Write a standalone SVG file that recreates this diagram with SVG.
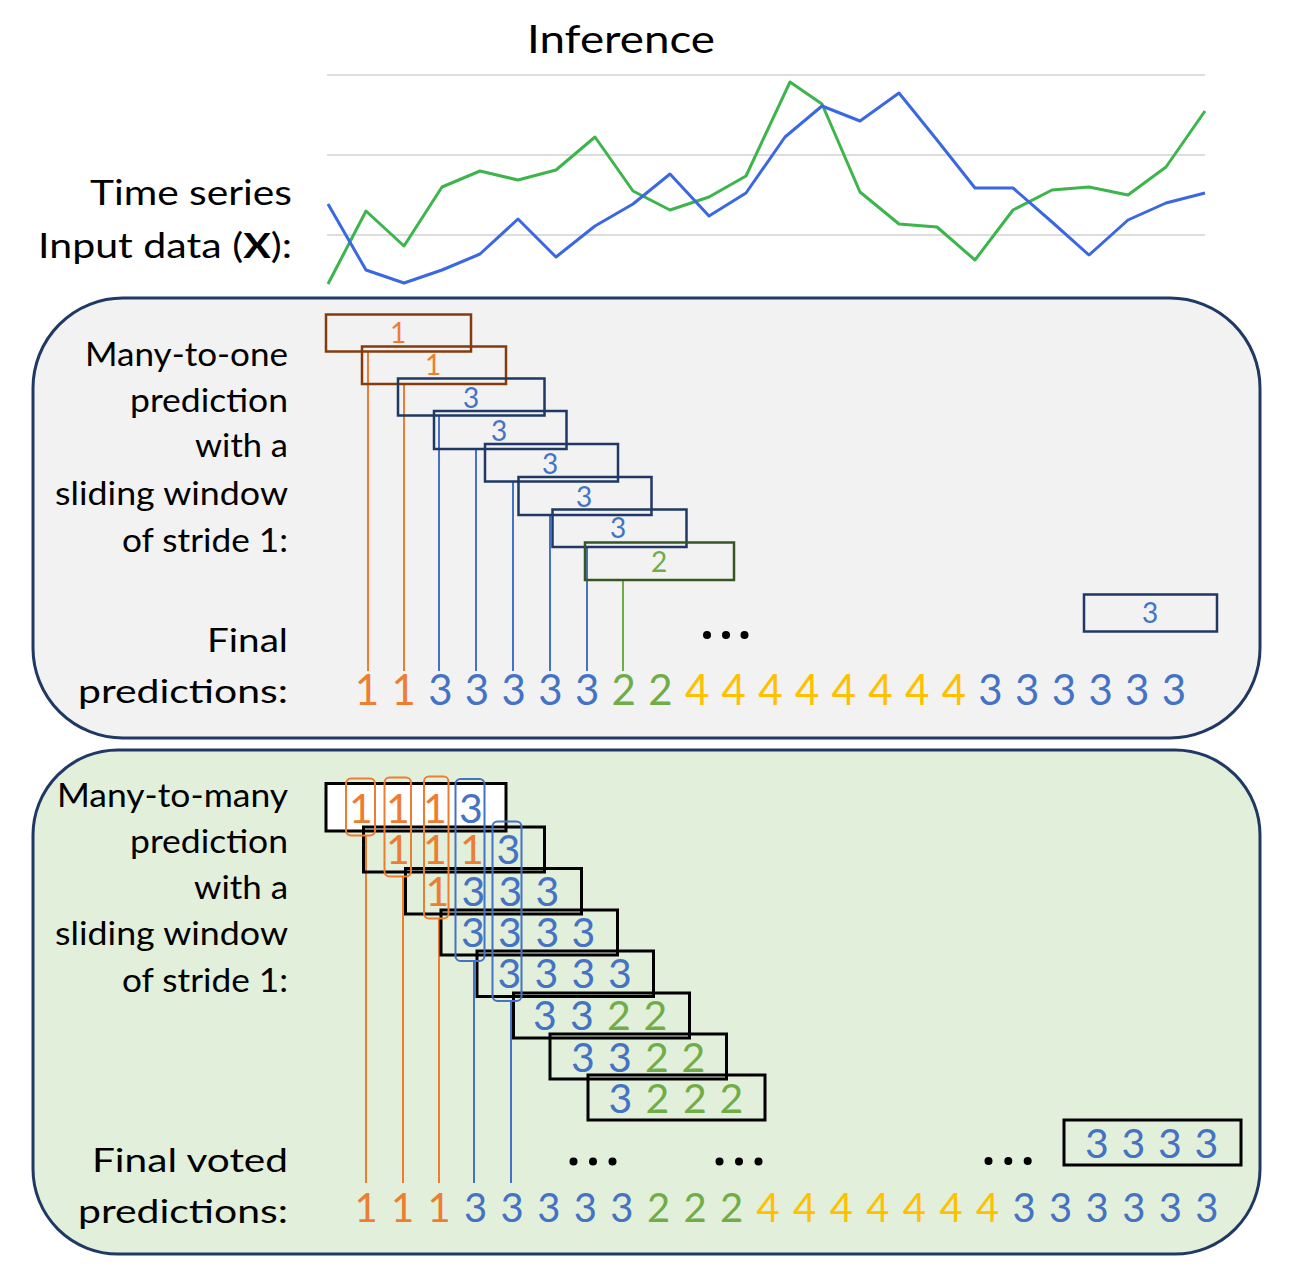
<svg xmlns="http://www.w3.org/2000/svg" width="1298" height="1280" viewBox="0 0 1298 1280">
<style>
  text { font-family: Lato, "Liberation Sans", Arial, sans-serif; }
  .lbl { font-size: 32px; fill: #000; }
  .big { font-size: 35px; fill: #000; }
  .grid { stroke: #dddddd; stroke-width: 2; fill: none; }
  .ser { fill: none; stroke-width: 3; stroke-linejoin: round; }
  .panel { stroke: #1f3864; stroke-width: 3; }
  .w1 { fill: none; stroke-width: 2.5; }
  .w2 { fill: none; stroke: #000; stroke-width: 3; }
  .sel { fill: none; stroke-width: 2; }
  .d1 { font-size: 28px; text-anchor: middle; }
  .d2 { font-size: 41px; text-anchor: middle; }
  .dr1 { font-size: 42px; text-anchor: middle; }
  .dr2 { font-size: 40px; text-anchor: middle; }
  .o { fill: #ed7d31; } .b { fill: #4472c4; } .g { fill: #70ad47; } .y { fill: #ffc000; }
  .lo { stroke: #ed7d31; stroke-width: 2; }
  .lb { stroke: #4472c4; stroke-width: 2; }
  .lg { stroke: #70ad47; stroke-width: 2; }
  .dot { fill: #000; }
</style>
<rect width="1298" height="1280" fill="#fff"/>

<g id="title"><text x="527" y="53" font-size="39" textLength="188" lengthAdjust="spacingAndGlyphs">Inference</text></g>

<g id="input-label">
  <text class="big" x="90" y="205" textLength="202" lengthAdjust="spacingAndGlyphs">Time series</text>
  <text class="big" x="38" y="258" textLength="254" lengthAdjust="spacingAndGlyphs">Input data (<tspan font-weight="bold">X</tspan>):</text>
</g>

<g id="chart">
  <line class="grid" x1="327" y1="75" x2="1205" y2="75"/>
  <line class="grid" x1="327" y1="155" x2="1205" y2="155"/>
  <line class="grid" x1="327" y1="235" x2="1205" y2="235"/>
  <polyline class="ser" stroke="#3db44c" points="328,284 366,211 404,246 442,187 480,171 518,180 556,170 595,137 633,191 670,210 709,197 746,176 790,82 822,104 860,192 899,224 937,227 975,260 1013,210 1052,190 1089,187 1128,195 1166,167 1205,111"/>
  <polyline class="ser" stroke="#3a67e2" points="328,204 366,270 404,283 442,270 480,254 518,219 556,257 595,226 633,204 670,174 709,216 746,193 785,137 822,106 860,121 899,93 937,140 975,188 1013,188 1052,222 1089,255 1128,220 1166,203 1205,193"/>
</g>

<g id="panel-many-to-one">
  <rect class="panel" x="33" y="298" width="1227" height="440" rx="90" ry="90" fill="#f2f2f2"/>
  <text class="lbl" x="85" y="366" textLength="203" lengthAdjust="spacingAndGlyphs">Many-to-one</text>
  <text class="lbl" x="130" y="412" textLength="158" lengthAdjust="spacingAndGlyphs">prediction</text>
  <text class="lbl" x="195" y="457" textLength="93" lengthAdjust="spacingAndGlyphs">with a</text>
  <text class="lbl" x="55" y="505" textLength="233" lengthAdjust="spacingAndGlyphs">sliding window</text>
  <text class="lbl" x="122" y="551.5" textLength="166" lengthAdjust="spacingAndGlyphs">of stride 1:</text>
  <text class="lbl" x="207" y="651.5" textLength="81" lengthAdjust="spacingAndGlyphs">Final</text>
  <text class="lbl" x="78" y="703" textLength="210" lengthAdjust="spacingAndGlyphs">predictions:</text>
</g>

<g id="panel-many-to-many">
  <rect class="panel" x="33" y="750" width="1227" height="504" rx="85" ry="85" fill="#e2efda"/>
  <text class="lbl" x="57" y="806.5" textLength="231" lengthAdjust="spacingAndGlyphs">Many-to-many</text>
  <text class="lbl" x="130" y="853" textLength="158" lengthAdjust="spacingAndGlyphs">prediction</text>
  <text class="lbl" x="194" y="899" textLength="94" lengthAdjust="spacingAndGlyphs">with a</text>
  <text class="lbl" x="55" y="945" textLength="233" lengthAdjust="spacingAndGlyphs">sliding window</text>
  <text class="lbl" x="122" y="991.5" textLength="166" lengthAdjust="spacingAndGlyphs">of stride 1:</text>
  <text class="lbl" x="92" y="1171.5" textLength="196" lengthAdjust="spacingAndGlyphs">Final voted</text>
  <text class="lbl" x="78" y="1223" textLength="210" lengthAdjust="spacingAndGlyphs">predictions:</text>
</g>

<g id="connectors">
  <line class="lo" x1="368" y1="352" x2="368" y2="671"/>
  <line class="lo" x1="404" y1="384" x2="404" y2="671"/>
  <line class="lb" x1="439" y1="416" x2="439" y2="671"/>
  <line class="lb" x1="476" y1="449" x2="476" y2="671"/>
  <line class="lb" x1="513" y1="482" x2="513" y2="671"/>
  <line class="lb" x1="550" y1="515" x2="550" y2="671"/>
  <line class="lb" x1="587" y1="547" x2="587" y2="671"/>
  <line class="lg" x1="623" y1="580" x2="623" y2="671"/>
  <line class="lo" x1="366" y1="836" x2="366" y2="1183"/>
  <line class="lo" x1="403" y1="877" x2="403" y2="1183"/>
  <line class="lo" x1="439" y1="918.5" x2="439" y2="1183"/>
  <line class="lb" x1="474" y1="961" x2="474" y2="1183"/>
  <line class="lb" x1="511" y1="1001" x2="511" y2="1183"/>
</g>

<g id="m2o-windows">
  <g id="m2o-w1"><rect class="w1" stroke="#843c0c" x="326" y="314.5" width="145" height="37"/><text class="d1 o" x="398" y="343">1</text></g>
  <g id="m2o-w2"><rect class="w1" stroke="#843c0c" x="362" y="346.5" width="144" height="37.5"/><text class="d1 o" x="433" y="375">1</text></g>
  <g id="m2o-w3"><rect class="w1" stroke="#1f3864" x="398" y="378.5" width="146.5" height="37"/><text class="d1 b" x="471" y="408">3</text></g>
  <g id="m2o-w4"><rect class="w1" stroke="#1f3864" x="434" y="411" width="132.5" height="38"/><text class="d1 b" x="499" y="441">3</text></g>
  <g id="m2o-w5"><rect class="w1" stroke="#1f3864" x="485" y="444" width="133" height="37.5"/><text class="d1 b" x="550" y="473.5">3</text></g>
  <g id="m2o-w6"><rect class="w1" stroke="#1f3864" x="518.5" y="477" width="133" height="38"/><text class="d1 b" x="584" y="506.5">3</text></g>
  <g id="m2o-w7"><rect class="w1" stroke="#1f3864" x="552.5" y="509.5" width="134" height="37.5"/><text class="d1 b" x="618" y="538">3</text></g>
  <g id="m2o-w8"><rect class="w1" stroke="#375623" x="585" y="542.5" width="149" height="37.5"/><text class="d1 g" x="659" y="571.5">2</text></g>
  <g id="m2o-last"><rect class="w1" stroke="#1f3864" x="1084" y="594.5" width="133" height="37"/><text class="d1 b" x="1150" y="623">3</text></g>
  <g id="m2o-dots"><circle class="dot" cx="707" cy="635" r="4"/><circle class="dot" cx="726" cy="635" r="4"/><circle class="dot" cx="744.5" cy="635" r="4"/></g>
</g>

<g id="m2o-final">
  <text class="dr1 o" x="367" y="705">1</text>
  <text class="dr1 o" x="403.7" y="705">1</text>
  <text class="dr1 b" x="440.4" y="705">3</text>
  <text class="dr1 b" x="477" y="705">3</text>
  <text class="dr1 b" x="513.7" y="705">3</text>
  <text class="dr1 b" x="550.4" y="705">3</text>
  <text class="dr1 b" x="587.1" y="705">3</text>
  <text class="dr1 g" x="623.8" y="705">2</text>
  <text class="dr1 g" x="660.4" y="705">2</text>
  <text class="dr1 y" x="697.1" y="705">4</text>
  <text class="dr1 y" x="733.8" y="705">4</text>
  <text class="dr1 y" x="770.5" y="705">4</text>
  <text class="dr1 y" x="807.2" y="705">4</text>
  <text class="dr1 y" x="843.8" y="705">4</text>
  <text class="dr1 y" x="880.5" y="705">4</text>
  <text class="dr1 y" x="917.2" y="705">4</text>
  <text class="dr1 y" x="953.9" y="705">4</text>
  <text class="dr1 b" x="990.5" y="705">3</text>
  <text class="dr1 b" x="1027.2" y="705">3</text>
  <text class="dr1 b" x="1063.9" y="705">3</text>
  <text class="dr1 b" x="1100.6" y="705">3</text>
  <text class="dr1 b" x="1137.2" y="705">3</text>
  <text class="dr1 b" x="1174" y="705">3</text>
</g>

<g id="m2m-windows">
  <g id="m2m-wA"><rect class="w2" style="fill:#fff" x="326" y="783.5" width="180" height="47.5"/>
    <text class="d2 o" x="361" y="822.5">1</text><text class="d2 o" x="398" y="822.5">1</text><text class="d2 o" x="435" y="822.5">1</text><text class="d2 b" x="471" y="822.5">3</text></g>
  <g id="m2m-wB"><rect class="w2" x="363.5" y="827" width="181" height="45"/>
    <text class="d2 o" x="398" y="864">1</text><text class="d2 o" x="435" y="864">1</text><text class="d2 o" x="472" y="864">1</text><text class="d2 b" x="508.5" y="864">3</text></g>
  <g id="m2m-wC"><rect class="w2" x="405.5" y="868.5" width="176" height="45.5"/>
    <text class="d2 o" x="437.5" y="906">1</text><text class="d2 b" x="473.5" y="906">3</text><text class="d2 b" x="510.5" y="906">3</text><text class="d2 b" x="547.5" y="906">3</text></g>
  <g id="m2m-wD"><rect class="w2" x="441" y="910" width="176.5" height="45"/>
    <text class="d2 b" x="473" y="947">3</text><text class="d2 b" x="510" y="947">3</text><text class="d2 b" x="547.5" y="947">3</text><text class="d2 b" x="583.5" y="947">3</text></g>
  <g id="m2m-wE"><rect class="w2" x="477" y="951" width="176.5" height="45.5"/>
    <text class="d2 b" x="509.5" y="988">3</text><text class="d2 b" x="546.5" y="988">3</text><text class="d2 b" x="583.5" y="988">3</text><text class="d2 b" x="620" y="988">3</text></g>
  <g id="m2m-wF"><rect class="w2" x="513.5" y="993" width="176" height="45"/>
    <text class="d2 b" x="545" y="1030">3</text><text class="d2 b" x="582" y="1030">3</text><text class="d2 g" x="619" y="1030">2</text><text class="d2 g" x="655.5" y="1030">2</text></g>
  <g id="m2m-wG"><rect class="w2" x="550" y="1034" width="176.5" height="45"/>
    <text class="d2 b" x="583" y="1071.5">3</text><text class="d2 b" x="620" y="1071.5">3</text><text class="d2 g" x="657" y="1071.5">2</text><text class="d2 g" x="693.5" y="1071.5">2</text></g>
  <g id="m2m-wH"><rect class="w2" x="588" y="1075" width="177" height="45"/>
    <text class="d2 b" x="620.5" y="1112.5">3</text><text class="d2 g" x="657.5" y="1112.5">2</text><text class="d2 g" x="695" y="1112.5">2</text><text class="d2 g" x="731.5" y="1112.5">2</text></g>
  <g id="m2m-last"><rect class="w2" x="1064" y="1120" width="177" height="45"/>
    <text class="d2 b" x="1097" y="1158">3</text><text class="d2 b" x="1133.5" y="1158">3</text><text class="d2 b" x="1170" y="1158">3</text><text class="d2 b" x="1206.5" y="1158">3</text></g>
  <g id="m2m-select">
    <rect class="sel" stroke="#ed7d31" x="346" y="778.5" width="29" height="57" rx="5"/>
    <rect class="sel" stroke="#ed7d31" x="384.5" y="777.5" width="26.5" height="99" rx="5"/>
    <rect class="sel" stroke="#ed7d31" x="424" y="776.5" width="24.5" height="142" rx="5"/>
    <rect class="sel" stroke="#4472c4" x="455.5" y="779" width="29" height="182" rx="5"/>
    <rect class="sel" stroke="#4472c4" x="492.5" y="821.5" width="29" height="179.5" rx="5"/>
  </g>
  <g id="m2m-dots">
    <circle class="dot" cx="573.5" cy="1161.5" r="4"/><circle class="dot" cx="593" cy="1161.5" r="4"/><circle class="dot" cx="612.5" cy="1161.5" r="4"/>
    <circle class="dot" cx="719.5" cy="1161.5" r="4"/><circle class="dot" cx="739" cy="1161.5" r="4"/><circle class="dot" cx="758.5" cy="1161.5" r="4"/>
    <circle class="dot" cx="988.5" cy="1161" r="4"/><circle class="dot" cx="1008.3" cy="1161" r="4"/><circle class="dot" cx="1027.7" cy="1161" r="4"/>
  </g>
</g>

<g id="m2m-final">
  <text class="dr2 o" x="366" y="1221.5">1</text>
  <text class="dr2 o" x="402.6" y="1221.5">1</text>
  <text class="dr2 o" x="439.1" y="1221.5">1</text>
  <text class="dr2 b" x="475.7" y="1221.5">3</text>
  <text class="dr2 b" x="512.2" y="1221.5">3</text>
  <text class="dr2 b" x="548.8" y="1221.5">3</text>
  <text class="dr2 b" x="585.4" y="1221.5">3</text>
  <text class="dr2 b" x="621.9" y="1221.5">3</text>
  <text class="dr2 g" x="658.5" y="1221.5">2</text>
  <text class="dr2 g" x="695" y="1221.5">2</text>
  <text class="dr2 g" x="731.6" y="1221.5">2</text>
  <text class="dr2 y" x="768.2" y="1221.5">4</text>
  <text class="dr2 y" x="804.7" y="1221.5">4</text>
  <text class="dr2 y" x="841.3" y="1221.5">4</text>
  <text class="dr2 y" x="877.8" y="1221.5">4</text>
  <text class="dr2 y" x="914.4" y="1221.5">4</text>
  <text class="dr2 y" x="951" y="1221.5">4</text>
  <text class="dr2 y" x="987.5" y="1221.5">4</text>
  <text class="dr2 b" x="1024.1" y="1221.5">3</text>
  <text class="dr2 b" x="1060.6" y="1221.5">3</text>
  <text class="dr2 b" x="1097.2" y="1221.5">3</text>
  <text class="dr2 b" x="1133.8" y="1221.5">3</text>
  <text class="dr2 b" x="1170.3" y="1221.5">3</text>
  <text class="dr2 b" x="1206.9" y="1221.5">3</text>
</g>
</svg>
